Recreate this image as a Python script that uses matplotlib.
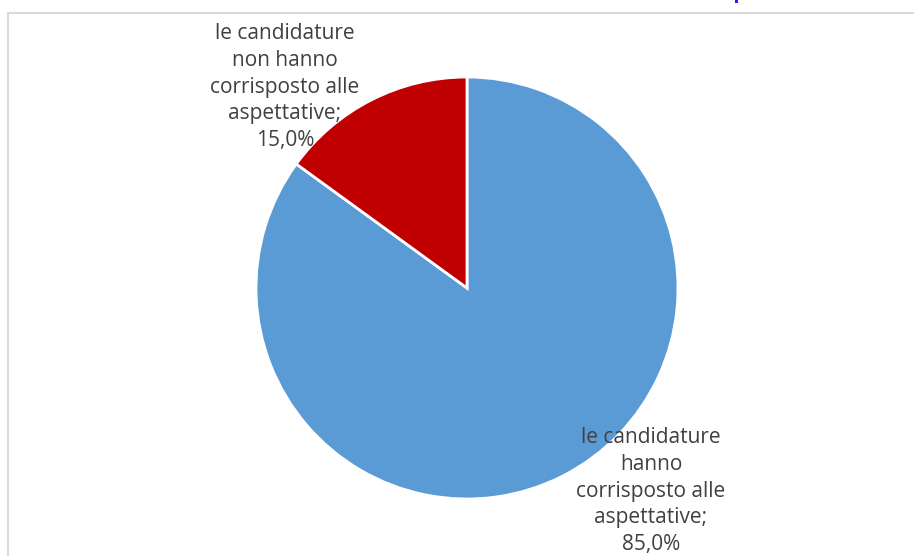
import matplotlib.pyplot as plt
from matplotlib.patches import Rectangle

categories = [
    "le candidature\nhanno\ncorrisposto alle\naspettative;",
    "le candidature\nnon hanno\ncorrisposto alle\naspettative;",
]
values = [85.0, 15.0]
colors = ["#5B9BD5", "#C00000"]

W, H = 914, 556
fig = plt.figure(figsize=(W / 100, H / 100), dpi=100)
fig.patch.set_facecolor("white")

# chart area frame (extends past right and bottom edges)
frame = Rectangle((8 / W, 0 - 0.01), 1.1, (H - 13) / H + 0.01,
                  transform=fig.transFigure, fill=False,
                  edgecolor="#D9D9D9", linewidth=1.5)
fig.add_artist(frame)

# small clipped blue glyph fragment at the top edge
fig.add_artist(Rectangle((735 / W, 1 - 3 / H), 3 / W, 3 / H,
                         transform=fig.transFigure, color="#1F1FFF", lw=0))

cx, cy, r = 467, 288, 211
ax = fig.add_axes([(cx - r) / W, (H - cy - r) / H, 2 * r / W, 2 * r / H])
wedges, _ = ax.pie(values, colors=colors, startangle=90, counterclock=False,
                   wedgeprops=dict(edgecolor="white", linewidth=2))
ax.set_xlim(-1, 1)
ax.set_ylim(-1, 1)
ax.set_aspect("auto")
ax.axis("off")

font = ["Open Sans", "DejaVu Sans"]
label_pos = [(651, 491), (285, 87)]
for (lx, ly), cat, v in zip(label_pos, categories, values):
    txt = f"{cat}\n{v:.1f}%".replace(".", ",")
    fig.text(lx / W, 1 - ly / H, txt, ha="center", va="center",
             fontsize=15, color="#404040", family=font, linespacing=1.37)

fig.savefig("out.png", dpi=100)
